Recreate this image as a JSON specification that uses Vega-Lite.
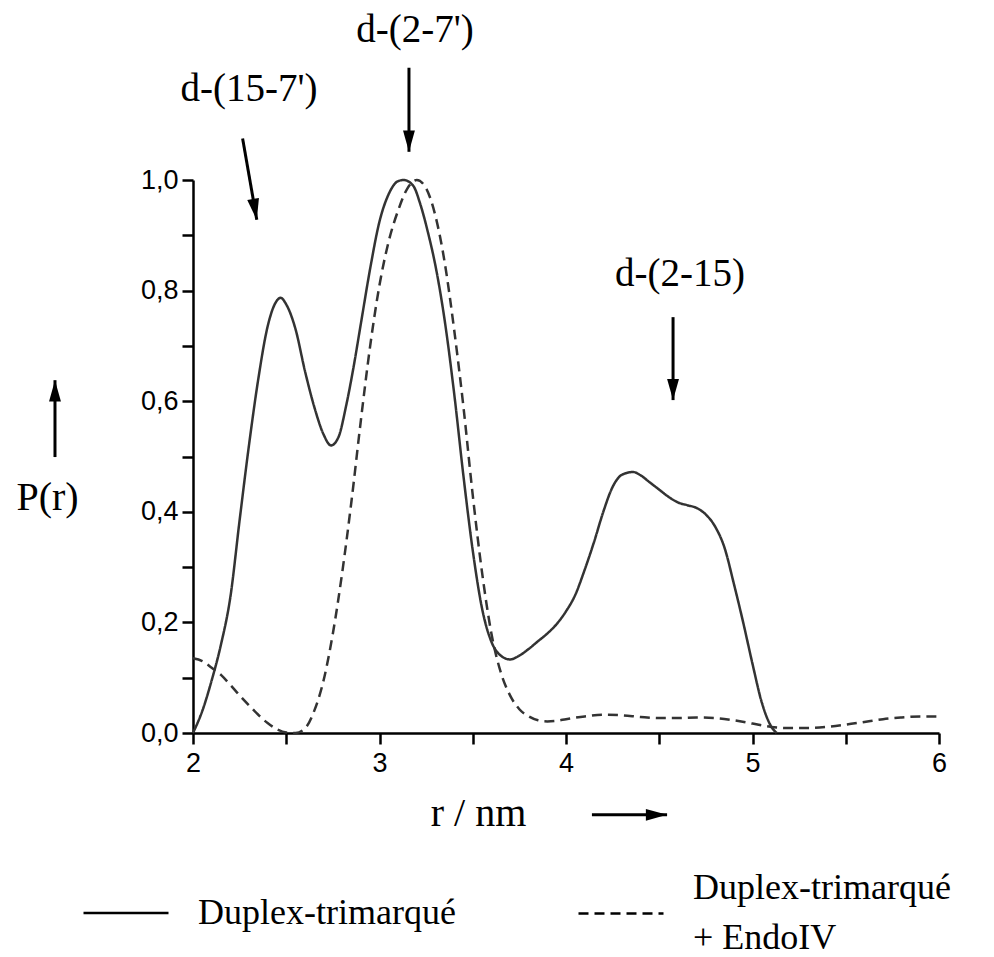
{
  "$schema": "https://vega.github.io/schema/vega-lite/v6.json",
  "width": 746,
  "height": 553,
  "autosize": "none",
  "padding": {"left": 193, "top": 180, "right": 55, "bottom": 224},
  "background": "white",
  "config": {
    "view": {"stroke": null},
    "axis": {
      "domainColor": "black", "domainWidth": 2.5, "tickColor": "black", "tickWidth": 2.5, "tickSize": 11,
      "labelFont": "Liberation Sans", "labelFontSize": 27, "labelColor": "black", "grid": false,
      "titleFont": "Liberation Serif", "titleFontSize": 40, "titleFontWeight": "normal", "titleColor": "black",
      "labelOverlap": false, "labelFlush": false
    }
  },
  "datasets": {
    "curves": [
      {"r": 2.00, "p": 0.000, "series": "Duplex-trimarqué"},
      {"r": 2.05, "p": 0.040, "series": "Duplex-trimarqué"},
      {"r": 2.10, "p": 0.095, "series": "Duplex-trimarqué"},
      {"r": 2.15, "p": 0.160, "series": "Duplex-trimarqué"},
      {"r": 2.20, "p": 0.245, "series": "Duplex-trimarqué"},
      {"r": 2.25, "p": 0.385, "series": "Duplex-trimarqué"},
      {"r": 2.30, "p": 0.520, "series": "Duplex-trimarqué"},
      {"r": 2.35, "p": 0.640, "series": "Duplex-trimarqué"},
      {"r": 2.40, "p": 0.735, "series": "Duplex-trimarqué"},
      {"r": 2.45, "p": 0.782, "series": "Duplex-trimarqué"},
      {"r": 2.47, "p": 0.787, "series": "Duplex-trimarqué"},
      {"r": 2.50, "p": 0.775, "series": "Duplex-trimarqué"},
      {"r": 2.55, "p": 0.730, "series": "Duplex-trimarqué"},
      {"r": 2.60, "p": 0.655, "series": "Duplex-trimarqué"},
      {"r": 2.65, "p": 0.590, "series": "Duplex-trimarqué"},
      {"r": 2.70, "p": 0.540, "series": "Duplex-trimarqué"},
      {"r": 2.74, "p": 0.520, "series": "Duplex-trimarqué"},
      {"r": 2.78, "p": 0.535, "series": "Duplex-trimarqué"},
      {"r": 2.82, "p": 0.590, "series": "Duplex-trimarqué"},
      {"r": 2.86, "p": 0.660, "series": "Duplex-trimarqué"},
      {"r": 2.90, "p": 0.740, "series": "Duplex-trimarqué"},
      {"r": 2.95, "p": 0.840, "series": "Duplex-trimarqué"},
      {"r": 3.00, "p": 0.925, "series": "Duplex-trimarqué"},
      {"r": 3.05, "p": 0.975, "series": "Duplex-trimarqué"},
      {"r": 3.10, "p": 0.998, "series": "Duplex-trimarqué"},
      {"r": 3.13, "p": 1.000, "series": "Duplex-trimarqué"},
      {"r": 3.18, "p": 0.990, "series": "Duplex-trimarqué"},
      {"r": 3.22, "p": 0.955, "series": "Duplex-trimarqué"},
      {"r": 3.26, "p": 0.905, "series": "Duplex-trimarqué"},
      {"r": 3.30, "p": 0.845, "series": "Duplex-trimarqué"},
      {"r": 3.35, "p": 0.745, "series": "Duplex-trimarqué"},
      {"r": 3.40, "p": 0.615, "series": "Duplex-trimarqué"},
      {"r": 3.45, "p": 0.465, "series": "Duplex-trimarqué"},
      {"r": 3.50, "p": 0.330, "series": "Duplex-trimarqué"},
      {"r": 3.55, "p": 0.225, "series": "Duplex-trimarqué"},
      {"r": 3.60, "p": 0.165, "series": "Duplex-trimarqué"},
      {"r": 3.65, "p": 0.140, "series": "Duplex-trimarqué"},
      {"r": 3.70, "p": 0.133, "series": "Duplex-trimarqué"},
      {"r": 3.75, "p": 0.140, "series": "Duplex-trimarqué"},
      {"r": 3.80, "p": 0.152, "series": "Duplex-trimarqué"},
      {"r": 3.85, "p": 0.166, "series": "Duplex-trimarqué"},
      {"r": 3.90, "p": 0.180, "series": "Duplex-trimarqué"},
      {"r": 3.95, "p": 0.197, "series": "Duplex-trimarqué"},
      {"r": 4.00, "p": 0.220, "series": "Duplex-trimarqué"},
      {"r": 4.05, "p": 0.250, "series": "Duplex-trimarqué"},
      {"r": 4.10, "p": 0.295, "series": "Duplex-trimarqué"},
      {"r": 4.15, "p": 0.345, "series": "Duplex-trimarqué"},
      {"r": 4.20, "p": 0.400, "series": "Duplex-trimarqué"},
      {"r": 4.25, "p": 0.445, "series": "Duplex-trimarqué"},
      {"r": 4.30, "p": 0.467, "series": "Duplex-trimarqué"},
      {"r": 4.36, "p": 0.472, "series": "Duplex-trimarqué"},
      {"r": 4.40, "p": 0.466, "series": "Duplex-trimarqué"},
      {"r": 4.45, "p": 0.453, "series": "Duplex-trimarqué"},
      {"r": 4.50, "p": 0.440, "series": "Duplex-trimarqué"},
      {"r": 4.55, "p": 0.427, "series": "Duplex-trimarqué"},
      {"r": 4.60, "p": 0.417, "series": "Duplex-trimarqué"},
      {"r": 4.65, "p": 0.412, "series": "Duplex-trimarqué"},
      {"r": 4.70, "p": 0.407, "series": "Duplex-trimarqué"},
      {"r": 4.75, "p": 0.395, "series": "Duplex-trimarqué"},
      {"r": 4.80, "p": 0.373, "series": "Duplex-trimarqué"},
      {"r": 4.85, "p": 0.335, "series": "Duplex-trimarqué"},
      {"r": 4.90, "p": 0.270, "series": "Duplex-trimarqué"},
      {"r": 4.95, "p": 0.200, "series": "Duplex-trimarqué"},
      {"r": 5.00, "p": 0.125, "series": "Duplex-trimarqué"},
      {"r": 5.05, "p": 0.055, "series": "Duplex-trimarqué"},
      {"r": 5.10, "p": 0.012, "series": "Duplex-trimarqué"},
      {"r": 5.13, "p": 0.000, "series": "Duplex-trimarqué"},
      {"r": 2.00, "p": 0.135, "series": "Duplex-trimarqué + EndoIV"},
      {"r": 2.05, "p": 0.130, "series": "Duplex-trimarqué + EndoIV"},
      {"r": 2.10, "p": 0.118, "series": "Duplex-trimarqué + EndoIV"},
      {"r": 2.15, "p": 0.105, "series": "Duplex-trimarqué + EndoIV"},
      {"r": 2.20, "p": 0.087, "series": "Duplex-trimarqué + EndoIV"},
      {"r": 2.25, "p": 0.068, "series": "Duplex-trimarqué + EndoIV"},
      {"r": 2.30, "p": 0.050, "series": "Duplex-trimarqué + EndoIV"},
      {"r": 2.35, "p": 0.033, "series": "Duplex-trimarqué + EndoIV"},
      {"r": 2.40, "p": 0.018, "series": "Duplex-trimarqué + EndoIV"},
      {"r": 2.45, "p": 0.007, "series": "Duplex-trimarqué + EndoIV"},
      {"r": 2.50, "p": 0.001, "series": "Duplex-trimarqué + EndoIV"},
      {"r": 2.55, "p": 0.000, "series": "Duplex-trimarqué + EndoIV"},
      {"r": 2.60, "p": 0.008, "series": "Duplex-trimarqué + EndoIV"},
      {"r": 2.65, "p": 0.040, "series": "Duplex-trimarqué + EndoIV"},
      {"r": 2.70, "p": 0.095, "series": "Duplex-trimarqué + EndoIV"},
      {"r": 2.75, "p": 0.180, "series": "Duplex-trimarqué + EndoIV"},
      {"r": 2.80, "p": 0.290, "series": "Duplex-trimarqué + EndoIV"},
      {"r": 2.85, "p": 0.420, "series": "Duplex-trimarqué + EndoIV"},
      {"r": 2.90, "p": 0.565, "series": "Duplex-trimarqué + EndoIV"},
      {"r": 2.95, "p": 0.700, "series": "Duplex-trimarqué + EndoIV"},
      {"r": 3.00, "p": 0.810, "series": "Duplex-trimarqué + EndoIV"},
      {"r": 3.05, "p": 0.890, "series": "Duplex-trimarqué + EndoIV"},
      {"r": 3.10, "p": 0.945, "series": "Duplex-trimarqué + EndoIV"},
      {"r": 3.15, "p": 0.985, "series": "Duplex-trimarqué + EndoIV"},
      {"r": 3.20, "p": 1.000, "series": "Duplex-trimarqué + EndoIV"},
      {"r": 3.25, "p": 0.985, "series": "Duplex-trimarqué + EndoIV"},
      {"r": 3.30, "p": 0.935, "series": "Duplex-trimarqué + EndoIV"},
      {"r": 3.35, "p": 0.850, "series": "Duplex-trimarqué + EndoIV"},
      {"r": 3.40, "p": 0.730, "series": "Duplex-trimarqué + EndoIV"},
      {"r": 3.45, "p": 0.590, "series": "Duplex-trimarqué + EndoIV"},
      {"r": 3.50, "p": 0.430, "series": "Duplex-trimarqué + EndoIV"},
      {"r": 3.55, "p": 0.290, "series": "Duplex-trimarqué + EndoIV"},
      {"r": 3.60, "p": 0.180, "series": "Duplex-trimarqué + EndoIV"},
      {"r": 3.65, "p": 0.110, "series": "Duplex-trimarqué + EndoIV"},
      {"r": 3.70, "p": 0.068, "series": "Duplex-trimarqué + EndoIV"},
      {"r": 3.75, "p": 0.043, "series": "Duplex-trimarqué + EndoIV"},
      {"r": 3.80, "p": 0.030, "series": "Duplex-trimarqué + EndoIV"},
      {"r": 3.85, "p": 0.023, "series": "Duplex-trimarqué + EndoIV"},
      {"r": 3.90, "p": 0.021, "series": "Duplex-trimarqué + EndoIV"},
      {"r": 3.95, "p": 0.022, "series": "Duplex-trimarqué + EndoIV"},
      {"r": 4.00, "p": 0.025, "series": "Duplex-trimarqué + EndoIV"},
      {"r": 4.10, "p": 0.030, "series": "Duplex-trimarqué + EndoIV"},
      {"r": 4.20, "p": 0.033, "series": "Duplex-trimarqué + EndoIV"},
      {"r": 4.30, "p": 0.032, "series": "Duplex-trimarqué + EndoIV"},
      {"r": 4.40, "p": 0.029, "series": "Duplex-trimarqué + EndoIV"},
      {"r": 4.50, "p": 0.027, "series": "Duplex-trimarqué + EndoIV"},
      {"r": 4.60, "p": 0.027, "series": "Duplex-trimarqué + EndoIV"},
      {"r": 4.70, "p": 0.028, "series": "Duplex-trimarqué + EndoIV"},
      {"r": 4.80, "p": 0.027, "series": "Duplex-trimarqué + EndoIV"},
      {"r": 4.90, "p": 0.023, "series": "Duplex-trimarqué + EndoIV"},
      {"r": 5.00, "p": 0.017, "series": "Duplex-trimarqué + EndoIV"},
      {"r": 5.10, "p": 0.011, "series": "Duplex-trimarqué + EndoIV"},
      {"r": 5.20, "p": 0.009, "series": "Duplex-trimarqué + EndoIV"},
      {"r": 5.30, "p": 0.009, "series": "Duplex-trimarqué + EndoIV"},
      {"r": 5.40, "p": 0.011, "series": "Duplex-trimarqué + EndoIV"},
      {"r": 5.50, "p": 0.015, "series": "Duplex-trimarqué + EndoIV"},
      {"r": 5.60, "p": 0.020, "series": "Duplex-trimarqué + EndoIV"},
      {"r": 5.70, "p": 0.025, "series": "Duplex-trimarqué + EndoIV"},
      {"r": 5.80, "p": 0.028, "series": "Duplex-trimarqué + EndoIV"},
      {"r": 5.90, "p": 0.030, "series": "Duplex-trimarqué + EndoIV"},
      {"r": 6.00, "p": 0.030, "series": "Duplex-trimarqué + EndoIV"}
    ],
    "notes": [
      {"label": "d-(15-7')", "r": 2.30, "p": 1.165},
      {"label": "d-(2-7')", "r": 3.19, "p": 1.271},
      {"label": "d-(2-15)", "r": 4.611, "p": 0.830}
    ],
    "arrows": [
      {"name": "d-(15-7')", "r1": 2.266, "p1": 1.075, "r2": 2.342, "p2": 0.928, "heading": 170},
      {"name": "d-(2-7')", "r1": 3.158, "p1": 1.203, "r2": 3.158, "p2": 1.051, "heading": 180},
      {"name": "d-(2-15)", "r1": 4.574, "p1": 0.752, "r2": 4.574, "p2": 0.602, "heading": 180},
      {"name": "P(r)", "r1": 1.26, "p1": 0.499, "r2": 1.26, "p2": 0.638, "heading": 0},
      {"name": "r / nm", "r1": 4.139, "p1": -0.148, "r2": 4.542, "p2": -0.148, "heading": 90}
    ]
  },
  "layer": [
    {
      "data": {"name": "curves"},
      "mark": {"type": "line", "interpolate": "monotone", "color": "#333333", "strokeWidth": 2.5},
      "encoding": {
        "x": {"field": "r", "type": "quantitative", "scale": {"domain": [2, 6], "nice": false, "zero": false},
          "axis": {"title": "r / nm", "values": [2, 2.5, 3, 3.5, 4, 4.5, 5, 5.5, 6], "labelExpr": "datum.value % 1 == 0 ? format(datum.value, 'd') : ''", "labelPadding": 6, "titleX": 285, "titleY": 80, "titleAlign": "center", "titleBaseline": "middle"}},
        "y": {"field": "p", "type": "quantitative", "scale": {"domain": [0, 1], "nice": false},
          "axis": {"title": "P(r)", "values": [0, 0.1, 0.2, 0.3, 0.4, 0.5, 0.6, 0.7, 0.8, 0.9, 1.0], "labelExpr": "round(datum.value * 10) % 2 == 0 ? replace(format(datum.value, '.1f'), '.', ',') : ''", "labelPadding": 4, "titleAngle": 0, "titleX": -146, "titleY": 317, "titleAlign": "center", "titleBaseline": "middle"}},
        "strokeDash": {"field": "series", "type": "nominal",
          "scale": {"domain": ["Duplex-trimarqué", "Duplex-trimarqué + EndoIV"], "range": [[1, 0], [10, 6]]},
          "legend": {"orient": "none", "legendX": -111, "legendY": 689, "direction": "horizontal", "title": null,
            "symbolType": "stroke", "symbolSize": 7225, "symbolStrokeWidth": 2.5, "symbolStrokeColor": "black",
            "labelFont": "Liberation Serif", "labelFontSize": 36, "labelColor": "black", "labelOffset": 28,
            "columnPadding": 117, "labelLimit": 0,
            "labelExpr": "datum.label == 'Duplex-trimarqué + EndoIV' ? ['Duplex-trimarqué', '+ EndoIV'] : [datum.label, '']",
            "encode": {"labels": {"update": {
              "lineHeight": {"signal": "datum.value == 'Duplex-trimarqué + EndoIV' ? 50 : 25"},
              "baseline": {"signal": "datum.value == 'Duplex-trimarqué + EndoIV' ? 'line-bottom' : 'middle'"}}}}}}
      }
    },
    {
      "data": {"name": "arrows"},
      "mark": {"type": "rule", "color": "black", "strokeWidth": 3, "clip": false},
      "encoding": {
        "x": {"field": "r1", "type": "quantitative", "scale": {"domain": [2, 6], "nice": false, "zero": false}},
        "y": {"field": "p1", "type": "quantitative", "scale": {"domain": [0, 1], "nice": false}},
        "x2": {"field": "r2"},
        "y2": {"field": "p2"}
      }
    },
    {
      "data": {"name": "arrows"},
      "mark": {"type": "point", "shape": "M0,0L-0.28,1L0.28,1Z", "filled": true, "size": 1800, "color": "black", "opacity": 1, "strokeWidth": 0, "clip": false},
      "encoding": {
        "x": {"field": "r2", "type": "quantitative", "scale": {"domain": [2, 6], "nice": false, "zero": false}},
        "y": {"field": "p2", "type": "quantitative", "scale": {"domain": [0, 1], "nice": false}},
        "angle": {"field": "heading", "type": "quantitative", "scale": null}
      }
    },
    {
      "data": {"name": "notes"},
      "mark": {"type": "text", "font": "Liberation Serif", "fontSize": 39, "color": "black", "align": "center", "baseline": "middle", "clip": false},
      "encoding": {
        "x": {"field": "r", "type": "quantitative", "scale": {"domain": [2, 6], "nice": false, "zero": false}},
        "y": {"field": "p", "type": "quantitative", "scale": {"domain": [0, 1], "nice": false}},
        "text": {"field": "label"}
      }
    }
  ]
}
